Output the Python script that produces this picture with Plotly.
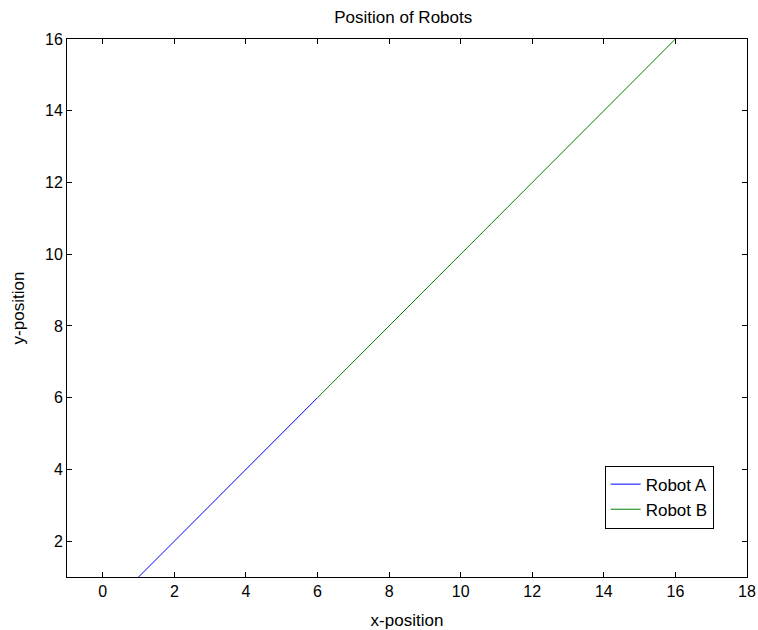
import plotly.graph_objects as go

# Data
robot_a_x = [1, 2, 3, 4, 5, 6]
robot_a_y = [1, 2, 3, 4, 5, 6]
robot_b_x = [6, 7, 8, 9, 10, 11, 12, 13, 14, 15, 16]
robot_b_y = [6, 7, 8, 9, 10, 11, 12, 13, 14, 15, 16]
x_ticks = [0, 2, 4, 6, 8, 10, 12, 14, 16, 18]
y_ticks = [2, 4, 6, 8, 10, 12, 14, 16]

FONT = "Liberation Sans, Arial, sans-serif"

fig = go.Figure()
fig.add_trace(go.Scatter(x=robot_a_x, y=robot_a_y, mode="lines", name="Robot A",
                         line=dict(color="rgb(0,0,255)", width=1)))
fig.add_trace(go.Scatter(x=robot_b_x, y=robot_b_y, mode="lines", name="Robot B",
                         line=dict(color="rgb(0,128,0)", width=1)))

axis_common = dict(
    showgrid=False, zeroline=False, showline=True, linecolor="black", linewidth=1,
    mirror="ticks", ticks="inside", ticklen=5, tickcolor="black", tickwidth=1,
    tickfont=dict(family=FONT, size=16, color="black"), automargin=False,
)

fig.update_layout(
    width=758, height=630,
    margin=dict(l=67, r=11, t=39, b=53),
    paper_bgcolor="white", plot_bgcolor="white",
    title=dict(text="Position of Robots", x=0.532, xanchor="center", y=0.973, yanchor="middle",
               font=dict(family=FONT, size=17, color="black")),
    xaxis=dict(range=[-1, 18], tickvals=x_ticks,
               title=dict(text="x-position", font=dict(family=FONT, size=17, color="black"), standoff=14),
               **axis_common),
    yaxis=dict(range=[1, 16], tickvals=y_ticks,
               title=dict(text="y-position", font=dict(family=FONT, size=17, color="black"), standoff=16),
               **axis_common),
    legend=dict(x=0.951, y=0.09, xanchor="right", yanchor="bottom",
                bordercolor="black", borderwidth=1, bgcolor="white",
                font=dict(family=FONT, size=17, color="black"),
                tracegroupgap=0),
    showlegend=True,
)

fig.write_html("out.html")
